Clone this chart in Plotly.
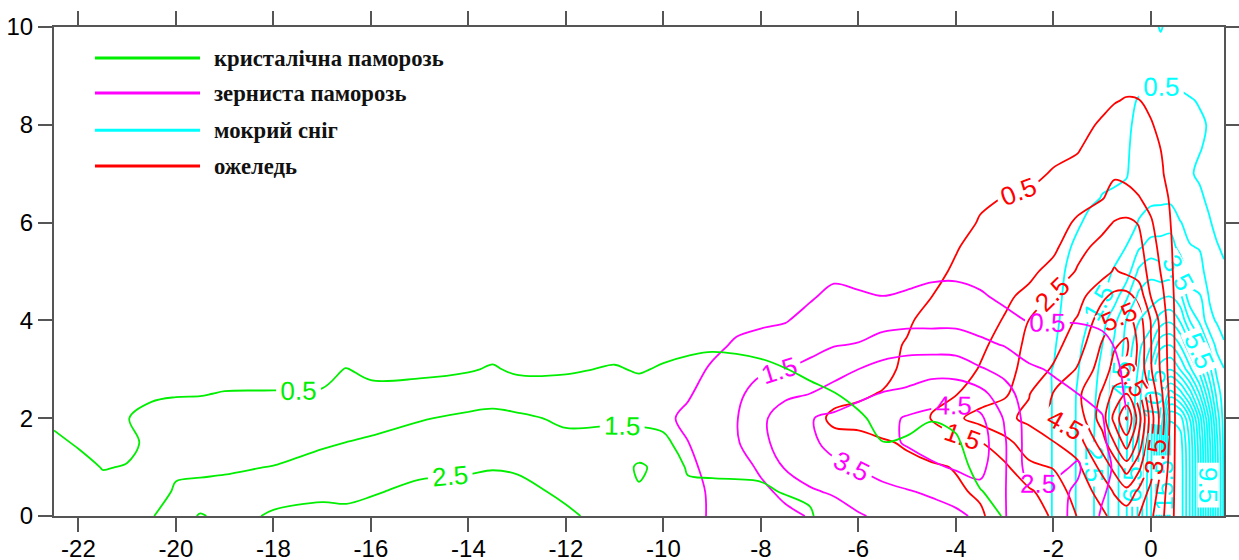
import numpy as np
import plotly.graph_objects as go

# ---------------- data (grids) ----------------
# кристалічна паморозь (green)
green_x = [-22.5,-22,-21.5,-21,-20.5,-20,-19.5,-19,-18,-17,-16.5,-16,-15,-14,-13.5,-13,-12,-11,
           -10.5,-10,-9.5,-9,-8,-7,-6.5,-6,-5.5,-5,-4.5,-4,-3.5,-3,-2.5]
green_y = [0,0.5,1,1.5,2,2.5,3,3.5,4]
green_cols = [
    [1.0,0.9,0.75,0.6,0.4,0.25,0.1,0,0],
    [0.95,0.8,0.65,0.45,0.35,0.25,0.1,0,0],
    [0.85,0.65,0.48,0.35,0.35,0.2,0.05,0,0],
    [0.9,0.7,0.52,0.4,0.48,0.3,0.1,0,0],
    [1.45,1.0,0.7,0.6,0.7,0.4,0.15,0,0],
    [1.9,1.62,1.33,1.04,0.75,0.46,0.2,0.05,0],
    [2.6,1.67,1.37,1.07,0.77,0.47,0.2,0.05,0],
    [2.2,1.7,1.41,1.12,0.82,0.53,0.25,0.05,0],
    [2.6,2.2,1.52,1.18,0.86,0.54,0.25,0.05,0],
    [2.75,2.31,1.83,1.38,0.98,0.58,0.22,0.05,0],
    [2.7,2.3,1.91,1.51,1.19,0.86,0.53,0.2,0],
    [2.8,2.42,2.02,1.62,1.19,0.75,0.3,0.05,0],
    [3.0,2.7,2.29,1.88,1.44,0.84,0.3,0.05,0],
    [3.1,2.76,2.39,2.02,1.65,1.08,0.42,0.1,0],
    [3.1,2.84,2.45,2.07,1.69,1.2,0.59,0.15,0],
    [3.0,2.76,2.39,2.02,1.65,1.0,0.35,0.05,0],
    [2.65,2.33,2.02,1.71,1.36,0.88,0.4,0.1,0],
    [2.15,2.05,1.95,1.78,1.38,0.98,0.58,0.15,0],
    [2.1,2.4,2.65,1.8,1.34,0.87,0.42,0.1,0],
    [2.1,2.15,2.2,1.65,1.3,0.95,0.6,0.2,0],
    [1.9,1.7,1.4,1.2,1.0,0.85,0.68,0.35,0.05],
    [1.85,1.62,1.4,1.22,1.05,0.88,0.7,0.42,0.1],
    [1.8,1.58,1.38,1.2,1.02,0.85,0.65,0.3,0.05],
    [1.6,1.35,1.18,1.0,0.82,0.64,0.38,0.1,0],
    [1.0,0.95,0.9,0.82,0.7,0.52,0.25,0.05,0],
    [0.9,0.85,0.8,0.72,0.6,0.3,0.1,0,0],
    [0.85,0.8,0.7,0.51,0.3,0.15,0.05,0,0],
    [0.85,0.8,0.72,0.56,0.35,0.15,0,0,0],
    [0.85,0.8,0.72,0.62,0.48,0.2,0.05,0,0],
    [0.8,0.75,0.68,0.56,0.4,0.15,0,0,0],
    [0.62,0.52,0.35,0.25,0.15,0.05,0,0,0],
    [0.48,0.35,0.2,0.1,0.05,0,0,0,0],
    [0.2,0.15,0.1,0.05,0,0,0,0,0],
]

# зерниста паморозь (magenta)
magenta_x = [-10,-9.5,-9,-8.5,-8,-7.5,-7,-6.5,-6,-5.5,-5,-4.5,-4,-3.5,-3,-2.5,-2,-1.5,-1,-0.5]
magenta_y = [0,0.5,1,1.5,2,2.5,3,3.5,4,4.5,5,5.5]
magenta_cols = [
    [0.1,0.1,0.15,0.2,0.3,0.25,0.15,0.05,0,0,0,0],
    [0.2,0.25,0.35,0.48,0.7,0.4,0.2,0.1,0,0,0,0],
    [0.6,0.6,0.7,0.9,1.1,0.9,0.6,0.3,0.1,0,0,0],
    [0.8,0.9,1.1,1.4,1.45,1.3,0.95,0.6,0.3,0.1,0,0],
    [1.1,1.3,1.65,2.2,2.3,1.9,1.35,0.8,0.35,0.1,0,0],
    [1.3,1.7,2.6,3.0,3.0,2.3,1.5,0.9,0.45,0.15,0,0],
    [1.55,2.4,2.9,3.3,3.45,2.5,1.75,1.2,0.75,0.4,0.1,0],
    [2.1,2.6,3.3,3.8,3.7,2.9,2.1,1.45,1.05,0.7,0.3,0.05],
    [2.4,3.0,3.55,4.0,3.9,3.3,2.5,1.55,1.05,0.6,0.2,0],
    [2.7,3.3,3.8,4.2,4.2,3.55,2.8,2.0,1.05,0.5,0.15,0],
    [3.0,3.45,4.0,4.6,4.6,3.7,3.0,2.1,1.2,0.6,0.2,0],
    [3.2,3.6,4.35,4.9,4.75,4.1,3.1,2.1,1.2,0.75,0.3,0],
    [3.3,3.9,4.6,5.0,4.9,4.2,3.0,2.1,1.2,0.8,0.3,0],
    [3.7,4.2,4.8,5.0,4.7,3.8,2.6,1.7,1.1,0.6,0.2,0],
    [3.55,3.55,3.6,3.6,3.4,2.9,2.2,1.45,0.75,0.3,0.1,0],
    [2.8,2.6,2.1,2.05,2.05,1.95,1.65,1.05,0.45,0.15,0,0],
    [2.9,2.7,2.3,2.1,1.95,1.75,1.4,1.0,0.45,0.1,0,0],
    [2.2,2.4,2.6,2.2,1.8,1.5,1.15,0.85,0.45,0.1,0,0],
    [1.4,1.6,1.75,1.65,1.55,1.25,0.95,0.7,0.35,0.05,0,0],
    [0.9,1.0,1.1,0.8,0.55,0.4,0.35,0.25,0.1,0,0,0],
]

# ожеледь (red)
red_x = [-7,-6.5,-6,-5.5,-5,-4.5,-4,-3.5,-3,-2.5,-2,-1.5,-1,-0.75,-0.5,-0.25,0,0.25,0.5,1.0,1.5]
red_y = [0,0.5,1,1.5,2,2.5,3,3.5,4,4.5,5,5.5,6,6.5,7,7.5,8,8.5,9,9.5]
red_cols = [
    [0.1,0.15,0.2,0.3,0.4,0.35,0.3,0.2,0.15,0.1,0.05,0,0,0,0,0,0,0,0,0],
    [0.15,0.2,0.3,0.42,0.55,0.42,0.3,0.25,0.2,0.1,0.05,0,0,0,0,0,0,0,0,0],
    [0.2,0.25,0.32,0.4,0.6,0.45,0.35,0.3,0.25,0.15,0.1,0,0,0,0,0,0,0,0,0],
    [0.25,0.3,0.38,0.45,0.75,0.52,0.4,0.35,0.3,0.2,0.1,0.05,0,0,0,0,0,0,0,0],
    [0.3,0.35,0.4,0.55,0.9,0.85,0.58,0.54,0.42,0.25,0.12,0.05,0,0,0,0,0,0,0,0],
    [0.35,0.42,0.45,0.7,1.55,1.3,1.0,0.85,0.7,0.49,0.3,0.15,0.05,0,0,0,0,0,0,0],
    [0.4,0.45,0.52,1.1,2.3,1.45,1.15,1.0,0.85,0.75,0.6,0.45,0.25,0.1,0,0,0,0,0,0],
    [0.45,0.55,0.8,1.45,2.9,1.9,1.55,1.35,1.2,1.05,0.9,0.75,0.55,0.4,0.2,0.05,0,0,0,0],
    [0.7,0.95,1.3,2.2,3.3,2.3,2.0,1.8,1.55,1.35,1.15,1.0,0.8,0.52,0.35,0.15,0,0,0,0],
    [1.1,1.35,2.3,3.0,3.7,3.45,3.0,2.8,2.52,1.7,1.3,1.1,0.85,0.6,0.35,0.15,0,0,0,0],
    [1.6,2.0,2.55,3.45,4.6,4.55,3.6,3.2,2.9,2.6,1.8,1.3,1.2,1.0,0.55,0.35,0.15,0,0,0],
    [2.55,2.9,3.3,4.0,4.9,5.3,4.6,4.0,3.6,3.1,2.6,2.2,1.6,1.25,0.75,0.45,0.25,0.05,0,0],
    [3.3,3.9,4.8,6.0,7.0,6.6,6.0,5.6,5.0,4.3,3.1,2.8,2.2,1.45,1.2,0.9,0.6,0.3,0.1,0],
    [3.8,4.6,5.8,7.5,8.8,7.8,6.8,6.4,5.6,4.7,3.6,3.0,2.55,1.8,1.4,1.1,0.8,0.45,0.15,0],
    [4.0,5.2,7.0,9.0,10.6,8.5,6.3,6.7,6.0,4.8,3.3,2.7,2.7,1.7,1.35,1.0,0.75,0.55,0.2,0],
    [3.5,4.3,5.8,7.2,8.0,6.8,5.3,5.3,5.0,4.2,3.0,2.8,2.45,1.55,1.1,0.8,0.6,0.52,0.15,0],
    [2.7,3.2,4.0,4.6,5.0,4.3,3.6,3.55,3.45,2.45,2.2,1.9,1.6,1.2,0.9,0.7,0.55,0.35,0.1,0],
    [1.6,1.8,2.2,2.45,2.7,2.4,2.1,2.0,1.9,1.6,1.3,1.1,0.95,0.75,0.52,0.45,0.3,0.15,0,0],
    [0.35,0.38,0.4,0.42,0.45,0.42,0.4,0.4,0.38,0.35,0.3,0.28,0.22,0.18,0.1,0.06,0.03,0,0,0],
    [0.1,0.1,0.1,0.1,0.1,0.1,0.1,0.1,0.1,0.05,0,0,0,0,0,0,0,0,0,0],
    [0,0,0,0,0,0,0,0,0,0,0,0,0,0,0,0,0,0,0,0],
]

# мокрий сніг (cyan)
cyan_x = [-2.5,-2,-1.75,-1.5,-1.25,-1,-0.75,-0.5,-0.25,0,0.2,0.4,0.6,0.8,1.0,1.2,1.35,1.5]
cyan_y = [0,0.5,1,1.5,2,2.5,3,3.5,4,4.5,5,5.5,6,6.5,7,7.5,8,8.5,9,9.5,10]
cyan_cols = [
    [0.2,0.2,0.2,0.2,0.2,0.2,0.2,0.2,0.15,0.1,0.1,0.05,0,0,0,0,0,0,0,0,0],
    [0.52,0.52,0.52,0.52,0.52,0.52,0.52,0.4,0.3,0.25,0.2,0.15,0.1,0.05,0,0,0,0,0,0,0],
    [1.0,1.0,1.0,1.0,1.0,1.0,0.95,0.85,0.7,0.6,0.52,0.38,0.25,0.15,0.05,0,0,0,0,0,0],
    [1.6,1.6,1.6,1.6,1.6,1.58,1.45,1.3,1.15,1.0,0.85,0.65,0.42,0.25,0.1,0,0,0,0,0,0],
    [2.25,2.25,2.25,2.25,2.2,2.15,2.05,1.85,1.55,1.3,1.1,0.9,0.65,0.4,0.2,0.05,0,0,0,0,0],
    [3.0,3.0,3.0,3.0,2.95,2.85,2.7,2.48,2.05,1.45,1.3,1.1,0.85,0.52,0.4,0.2,0.05,0,0,0,0],
    [4.0,4.0,4.0,4.0,3.95,3.9,3.8,3.65,3.2,2.0,1.55,1.3,1.0,0.62,0.35,0.25,0.1,0,0,0,0],
    [5.45,5.45,5.45,5.4,5.3,5.2,5.0,4.8,4.55,3.3,1.9,1.52,1.0,0.7,0.45,0.4,0.35,0.3,0.1,0,0],
    [7.7,7.7,7.6,7.45,7.2,7.0,6.6,6.2,5.45,4.7,3.7,2.35,1.55,1.2,0.9,0.8,0.7,0.55,0.2,0.05,0],
    [10.4,10.4,10.3,10.2,10.0,9.7,8.8,7.4,6.0,5.1,4.2,2.9,1.9,1.3,0.9,0.8,0.75,0.65,0.35,0.2,0.3],
    [14.0,14.0,14.0,13.9,13.6,13.0,11.0,9.2,7.0,5.3,3.9,2.9,2.0,1.3,0.9,0.8,0.75,0.6,0.45,0.3,0.55],
    [18.8,18.8,18.8,18.8,18.45,15.0,11.45,9.45,7.3,5.45,4.0,3.0,2.1,1.3,0.9,0.8,0.75,0.6,0.3,0.2,0.3],
    [19.2,19.2,19.2,19.0,18.0,14.0,10.45,8.45,6.4,4.8,3.4,2.1,1.55,0.9,0.65,0.7,0.75,0.62,0.3,0.1,0],
    [16.45,16.45,16.45,16.3,15.45,12.0,8.8,6.6,4.45,2.8,2.0,1.55,1.2,0.75,0.55,0.62,0.68,0.55,0.2,0,0],
    [13,13,13,12.8,12,9.45,7.0,5.0,3.3,2.6,1.8,1.45,1.0,0.6,0.42,0.52,0.6,0.45,0.1,0,0],
    [9,9,9,8.8,8.2,6.45,4.8,3.3,1.8,1.4,1.1,0.8,0.55,0.38,0.35,0.42,0.45,0.3,0,0,0],
    [6,6,6,5.8,5.2,4.2,3.2,2.2,1.4,1.0,0.75,0.55,0.35,0.2,0.1,0.1,0.1,0,0,0,0],
    [3.2,3.2,3.2,3.1,3.0,2.8,2.55,1.6,1.1,0.8,0.6,0.4,0.2,0.1,0,0,0,0,0,0,0],
]

series_names = ["кристалічна паморозь", "зерниста паморозь", "мокрий сніг", "ожеледь"]
series_colors = ["#00ee00", "#ff00ff", "#00ffff", "#ff0000"]
x_ticks = [-22,-20,-18,-16,-14,-12,-10,-8,-6,-4,-2,0]
y_ticks = [0,2,4,6,8,10]

# ---------------- figure ----------------
fig = go.Figure()

def add_field(xs, ys, cols, color, top):
    z = np.array(cols, dtype=float).T
    fig.add_trace(go.Contour(
        x=xs, y=ys, z=z,
        contours=dict(start=0.5, end=top, size=1, coloring="lines", showlabels=True,
                      labelfont=dict(size=26, color=color, family="Liberation Sans, Arial")),
        colorscale=[[0, color], [1, color]],
        line=dict(width=1.8, smoothing=1.0),
        showscale=False, hoverinfo="skip",
    ))

add_field(cyan_x, cyan_y, cyan_cols, series_colors[2], 18.5)
add_field(red_x, red_y, red_cols, series_colors[3], 10.5)
add_field(magenta_x, magenta_y, magenta_cols, series_colors[1], 4.5)
add_field(green_x, green_y, green_cols, series_colors[0], 2.5)

# legend drawn inside the plot
leg_y = [0.9366, 0.865, 0.789, 0.7157]
for name, col, yy in zip(series_names, series_colors, leg_y):
    fig.add_shape(type="line", xref="paper", yref="paper", x0=0.035, x1=0.1248, y0=yy, y1=yy,
                  line=dict(color=col, width=3))
    fig.add_annotation(xref="paper", yref="paper", x=0.135, y=yy, text="<b>" + name + "</b>",
                       showarrow=False, xanchor="left", yanchor="middle",
                       font=dict(family="Liberation Serif, Times New Roman", size=22.7, color="#111"))

axis_common = dict(showgrid=False, zeroline=False, showline=True, linecolor="#555", linewidth=2,
                   ticks="outside", ticklen=14, tickwidth=2, tickcolor="#555", mirror="allticks",
                   automargin=False,
                   tickfont=dict(family="Liberation Sans, Arial", size=24, color="#000"))
fig.update_xaxes(range=[-22.5, 1.5], tickvals=x_ticks, ticktext=[str(v) for v in x_ticks],
                 ticklabelstandoff=-4, **axis_common)
fig.update_yaxes(range=[0, 10], tickvals=y_ticks, ticktext=[str(v) for v in y_ticks], **axis_common)

fig.update_layout(width=1239, height=560, margin=dict(l=54, r=15, t=27, b=44),
                  plot_bgcolor="white", paper_bgcolor="white", showlegend=False)
fig.write_html("out.html", config={"displayModeBar": False},
               post_script="document.body.style.margin='0';")
